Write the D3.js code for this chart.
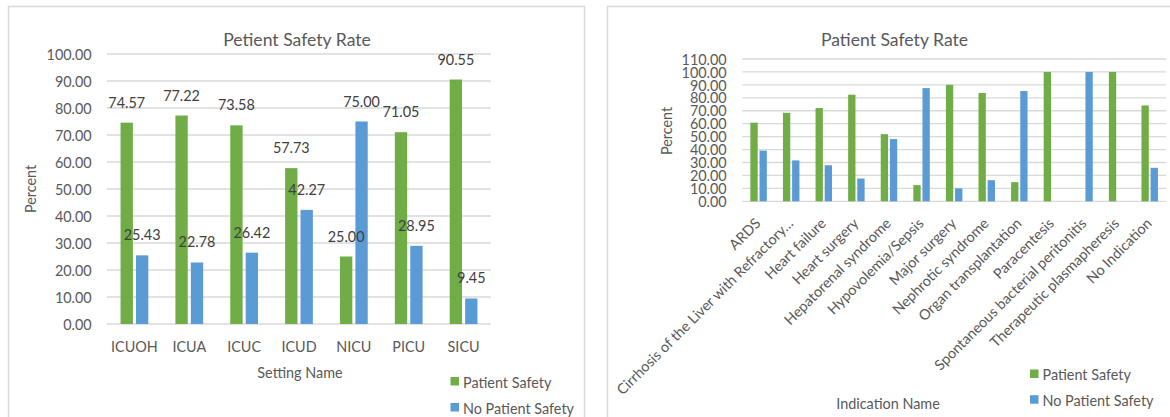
<!DOCTYPE html>
<html>
<head>
<meta charset="utf-8">
<script src="https://cdn.jsdelivr.net/npm/d3@7"></script>
<style>
  html, body { margin: 0; padding: 0; background: #ffffff; }
  svg { display: block; }
  text { font-family: Lato, "Open Sans", sans-serif; fill: #595959; }
</style>
</head>
<body>
<svg id="chart" width="1170" height="417"></svg>
<script>
// ---- Data: rates by ICU setting ----
const settingNames = ["ICUOH", "ICUA", "ICUC", "ICUD", "NICU", "PICU", "SICU"];
const settingSafety = [74.57, 77.22, 73.58, 57.73, 25.00, 71.05, 90.55];
const settingNoSafety = [25.43, 22.78, 26.42, 42.27, 75.00, 28.95, 9.45];
const settingTicks = [0, 10, 20, 30, 40, 50, 60, 70, 80, 90, 100];

// ---- Data: rates by indication ----
const indicationNames = [
  "ARDS",
  "Cirrhosis of the Liver with Refractory\u2026",
  "Heart failure",
  "Heart surgery",
  "Hepatorenal syndrome",
  "Hypovolemia/Sepsis",
  "Major surgery",
  "Nephrotic syndrome",
  "Organ transplantation",
  "Paracentesis",
  "Spontaneous bacterial peritonitis",
  "Therapeutic plasmapheresis",
  "No Indication"
];
const indicationSafety = [60.8, 68.4, 72.1, 82.4, 51.9, 12.5, 90.0, 83.7, 14.8, 100, 0, 100, 74.1];
const indicationNoSafety = [39.2, 31.6, 27.9, 17.6, 48.1, 87.5, 10.0, 16.3, 85.2, 0, 100, 0, 25.9];
const indicationTicks = [0, 10, 20, 30, 40, 50, 60, 70, 80, 90, 100, 110];

const seriesNames = ["Patient Safety", "No Patient Safety"];
const seriesColors = ["#70AD47", "#5B9BD5"];

const svg = d3.select("#chart");
const fmt = d3.format(".2f");
const SMALL = 14.4;
const TITLE = 17.6;
const GRID = "#d9d9d9";

// Panel frames
svg.append("rect").attr("x", 8.5).attr("y", 6.5).attr("width", 576).attr("height", 430)
  .attr("fill", "none").attr("stroke", GRID).attr("stroke-width", 1.5);
svg.append("rect").attr("x", 607.5).attr("y", 6.5).attr("width", 600).attr("height", 430)
  .attr("fill", "none").attr("stroke", GRID).attr("stroke-width", 1.5);

function drawChart(cfg) {
  const g = svg.append("g");
  const y = d3.scaleLinear().domain(cfg.domain).range([cfg.yBottom, cfg.yTop]);
  const x = d3.scaleBand().domain(cfg.categories).range([cfg.xLeft, cfg.xRight]).padding(0);
  const xs = d3.scaleBand().domain(seriesNames).range([0, x.bandwidth()])
    .paddingInner(0.2).paddingOuter(0.88);

  // Gridlines
  g.append("g").selectAll("line").data(cfg.ticks).join("line")
    .attr("x1", cfg.xLeft).attr("x2", cfg.xRight)
    .attr("y1", d => y(d)).attr("y2", d => y(d))
    .attr("stroke", GRID).attr("stroke-width", 1.3);

  // Y axis tick labels
  const yAxis = d3.axisLeft(y).tickValues(cfg.ticks).tickFormat(fmt).tickSize(0).tickPadding(0);
  const ya = g.append("g").attr("transform", `translate(${cfg.tickRight},0)`).call(yAxis);
  ya.select(".domain").remove();
  ya.selectAll("text").attr("font-size", SMALL).attr("font-family", null).attr("fill", "#595959")
    .attr("dy", "0.36em");

  // Bars
  const rows = cfg.categories.map((c, i) => ({ cat: c, vals: [cfg.s1[i], cfg.s2[i]] }));
  const grp = g.append("g").selectAll("g").data(rows).join("g")
    .attr("transform", d => `translate(${x(d.cat)},0)`);
  grp.selectAll("rect").data(d => d.vals.map((v, k) => ({ v, k })))
    .join("rect")
    .attr("x", d => xs(seriesNames[d.k]))
    .attr("width", xs.bandwidth())
    .attr("y", d => y(d.v))
    .attr("height", d => y(0) - y(d.v))
    .attr("fill", d => seriesColors[d.k]);

  if (cfg.valueLabels) {
    grp.selectAll("text.val").data(d => d.vals.map((v, k) => ({ v, k })))
      .join("text").attr("class", "val")
      .attr("x", d => xs(seriesNames[d.k]) + xs.bandwidth() / 2)
      .attr("y", d => y(d.v) - 15)
      .attr("text-anchor", "middle").attr("font-size", SMALL)
      .style("fill", "#404040")
      .text(d => fmt(d.v));
  }

  // Category labels
  if (cfg.rotateLabels) {
    g.append("g").selectAll("text").data(cfg.categories).join("text")
      .attr("transform", d => `translate(${x(d) + x.bandwidth() / 2 + 3},${cfg.yBottom + 23}) rotate(-45)`)
      .attr("text-anchor", "end").attr("font-size", SMALL)
      .text(d => d);
  } else {
    g.append("g").selectAll("text").data(cfg.categories).join("text")
      .attr("x", d => x(d) + x.bandwidth() / 2)
      .attr("y", cfg.catBaseline)
      .attr("text-anchor", "middle").attr("font-size", SMALL)
      .text(d => d);
  }

  // Titles
  g.append("text").attr("x", cfg.titleX).attr("y", 46).attr("text-anchor", "middle")
    .attr("font-size", TITLE).text(cfg.title);
  g.append("text").attr("x", cfg.xTitleX).attr("y", cfg.xTitleY).attr("text-anchor", "middle")
    .attr("font-size", SMALL).text(cfg.xTitle);
  g.append("text").attr("transform", `translate(${cfg.yTitleX},${cfg.yTitleY}) rotate(-90)`)
    .attr("text-anchor", "middle").attr("dy", "0.36em")
    .attr("font-size", SMALL).text("Percent");

  // Legend
  const lg = g.append("g").selectAll("g").data(seriesNames).join("g")
    .attr("transform", (d, i) => `translate(${cfg.legendX},${cfg.legendY[i]})`);
  lg.append("rect").attr("x", 0).attr("y", -10.5).attr("width", 8.5).attr("height", 8.5)
    .attr("fill", (d, i) => seriesColors[i]);
  lg.append("text").attr("x", 12.5).attr("y", 0).attr("font-size", SMALL).text(d => d);
}

drawChart({
  categories: settingNames, s1: settingSafety, s2: settingNoSafety,
  domain: [0, 100], ticks: settingTicks,
  xLeft: 107, xRight: 491, yTop: 54, yBottom: 324, tickRight: 91.7,
  valueLabels: true, rotateLabels: false, catBaseline: 351.7,
  title: "Petient Safety Rate", titleX: 297,
  xTitle: "Setting Name", xTitleX: 300, xTitleY: 378,
  yTitleX: 31, yTitleY: 189,
  legendX: 450.5, legendY: [387.5, 413.5]
});

drawChart({
  categories: indicationNames, s1: indicationSafety, s2: indicationNoSafety,
  domain: [0, 110], ticks: indicationTicks,
  xLeft: 742.3, xRight: 1166, yTop: 59, yBottom: 201.3, tickRight: 726.7,
  valueLabels: false, rotateLabels: true,
  title: "Patient Safety Rate", titleX: 894.5,
  xTitle: "Indication Name", xTitleX: 888, xTitleY: 408.5,
  yTitleX: 666.5, yTitleY: 131,
  legendX: 1030, legendY: [380, 405.7]
});
</script>
</body>
</html>
